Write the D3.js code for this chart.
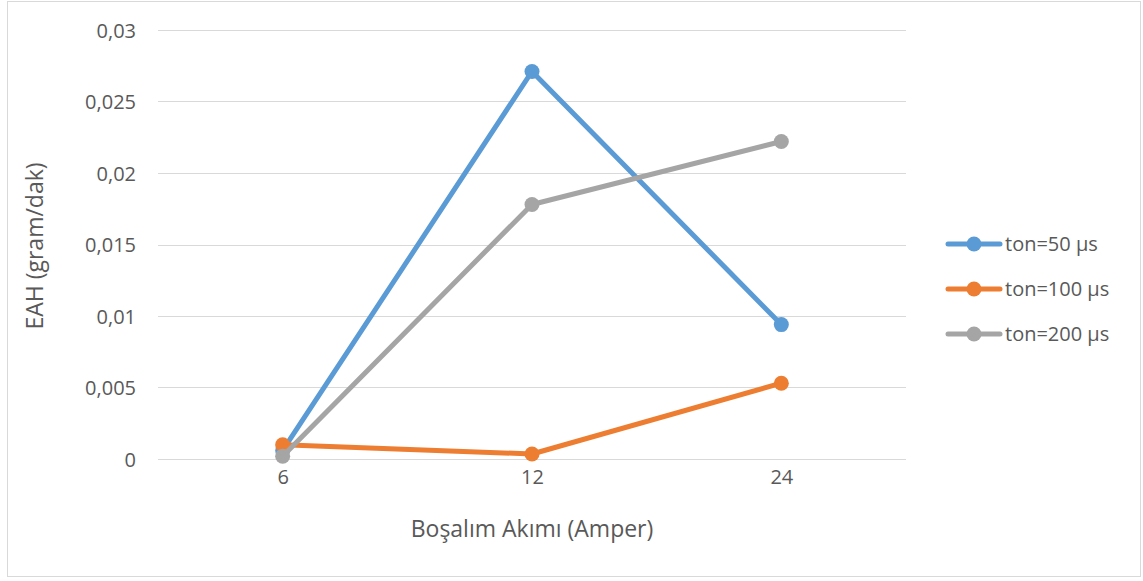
<!DOCTYPE html>
<html>
<head>
<meta charset="utf-8">
<script src="https://cdn.jsdelivr.net/npm/d3@7"></script>
<style>
  html, body { margin: 0; padding: 0; background: #fff; }
  svg text { font-family: "Open Sans", "Liberation Sans", sans-serif; fill: #595959; }
</style>
</head>
<body>
<svg id="chart" width="1143" height="581"></svg>
<script>
// Discharge current categories (A)
const categories = ["6", "12", "24"];
// Material removal rate (gram/dak) per pulse-on time
const seriesNames = ["ton=50 µs", "ton=100 µs", "ton=200 µs"];
const ton50 = [0.0006, 0.0271, 0.0094];
const ton100 = [0.001, 0.00035, 0.0053];
const ton200 = [0.0002, 0.0178, 0.0222];
const yTicks = [0, 0.005, 0.01, 0.015, 0.02, 0.025, 0.03];
const colors = ["#5B9BD5", "#ED7D31", "#A5A5A5"];

const series = [ton50, ton100, ton200].map((values, i) => ({
  name: seriesNames[i], color: colors[i], values
}));

const svg = d3.select("#chart");
const margin = { left: 158, right: 906, top: 30, bottom: 459 };
const font = "'Open Sans', 'Liberation Sans', sans-serif";

// chart frame
svg.append("rect")
  .attr("x", 7.5).attr("y", 1.5).attr("width", 1133).attr("height", 575)
  .attr("fill", "#fff").attr("stroke", "#D9D9D9").attr("stroke-width", 1);

const x = d3.scalePoint().domain(categories).range([margin.left, margin.right]).padding(0.5);
const y = d3.scaleLinear().domain([0, 0.03]).range([margin.bottom, margin.top]);

const fmt = v => v === 0 ? "0" : String(+v.toFixed(3)).replace(".", ",");

// gridlines
svg.append("g").selectAll("line").data(yTicks).join("line")
  .attr("x1", margin.left).attr("x2", margin.right)
  .attr("y1", d => Math.round(y(d)) + 0.5).attr("y2", d => Math.round(y(d)) + 0.5)
  .attr("stroke", "#D9D9D9").attr("stroke-width", 1);

// y axis labels
const yAxis = svg.append("g").attr("transform", `translate(${margin.left},0)`)
  .call(d3.axisLeft(y).tickValues(yTicks).tickFormat(fmt).tickSize(0).tickPadding(22));
yAxis.select(".domain").remove();
yAxis.selectAll("text").attr("font-size", 20).attr("fill", "#595959")
  .attr("font-family", font).attr("dy", "0.36em");

// x axis labels
const xAxis = svg.append("g").attr("transform", `translate(0,${margin.bottom})`)
  .call(d3.axisBottom(x).tickSize(0).tickPadding(11));
xAxis.select(".domain").remove();
xAxis.selectAll("text").attr("font-size", 20).attr("fill", "#595959")
  .attr("font-family", font);

// axis titles
svg.append("text").attr("x", (margin.left + margin.right) / 2).attr("y", 537)
  .attr("text-anchor", "middle").attr("font-size", 23).text("Boşalım Akımı (Amper)");
svg.append("text").attr("transform", "translate(43,246) rotate(-90)")
  .attr("text-anchor", "middle").attr("font-size", 23).text("EAH (gram/dak)");

// series lines and markers
const line = d3.line().x((d, i) => x(categories[i])).y(d => y(d));
series.forEach(s => {
  const g = svg.append("g");
  g.append("path").datum(s.values).attr("d", line)
    .attr("fill", "none").attr("stroke", s.color).attr("stroke-width", 5)
    .attr("stroke-linejoin", "round").attr("stroke-linecap", "round");
  g.selectAll("circle").data(s.values).join("circle")
    .attr("cx", (d, i) => x(categories[i])).attr("cy", d => y(d)).attr("r", 7.5)
    .attr("fill", s.color);
});

// legend
const legend = svg.append("g");
series.forEach((s, i) => {
  const ly = 244 + i * 45;
  legend.append("line").attr("x1", 948).attr("x2", 1000).attr("y1", ly).attr("y2", ly)
    .attr("stroke", s.color).attr("stroke-width", 5).attr("stroke-linecap", "round");
  legend.append("circle").attr("cx", 974).attr("cy", ly).attr("r", 7.5).attr("fill", s.color);
  legend.append("text").attr("x", 1005).attr("y", ly + 7).attr("font-size", 20).text(s.name);
});
</script>
</body>
</html>
